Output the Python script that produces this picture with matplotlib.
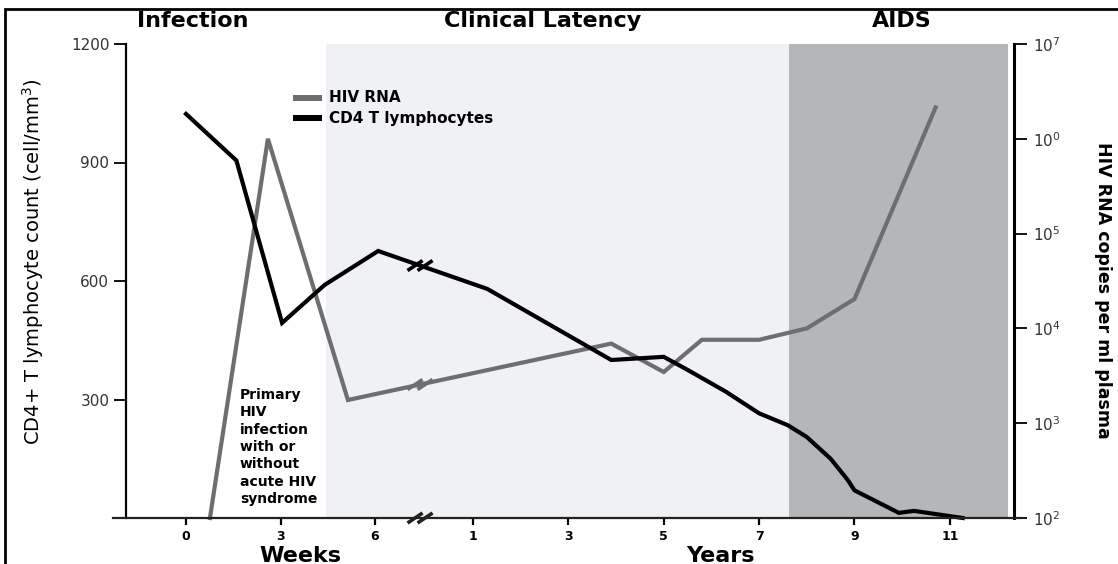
import matplotlib
matplotlib.use('Agg')
import matplotlib.pyplot as plt
import numpy as np
from matplotlib.lines import Line2D
from matplotlib.patches import Rectangle
from matplotlib.transforms import IdentityTransform

# ---------------- data ----------------
week_ticks = [0, 3, 6]
year_ticks = [1, 3, 5, 7, 9, 11]
left_ticks = [300, 600, 900, 1200]
right_ticks = [1e2, 1e3, 1e4, 1e5, 1e6, 1e7]
right_tick_labels = ['$\\mathregular{10^2}$', '$\\mathregular{10^3}$', '$\\mathregular{10^4}$',
                     '$\\mathregular{10^5}$', '$\\mathregular{10^0}$', '$\\mathregular{10^7}$']

cd4_week_t = [0, 1.6, 3.05, 4.4, 6.1]
cd4_week_v = [1023, 905, 494, 590, 676]
cd4_year_t = [1.3, 3.9, 5.0, 5.5, 6.3, 7.0, 7.6, 8.0, 8.5, 8.86, 9.0, 9.93, 10.25, 11.27]
cd4_year_v = [580, 400, 408, 375, 320, 265, 235, 205, 150, 96, 70, 13, 18, 0]

rna_week_t = [0.76, 2.6, 5.14]
rna_week_v = [1e2, 1e6, 10 ** 3.245]
rna_year_t = [3.9, 5.0, 5.8, 7.0, 8.0, 9.0, 10.7]
rna_year_v = [10 ** 3.84, 10 ** 3.54, 10 ** 3.88, 10 ** 3.88, 10 ** 4.0, 10 ** 4.31, 10 ** 6.33]

phase_labels = ['Infection', 'Clinical Latency', 'AIDS']
latency_start_week = 4.44
aids_start_year = 7.62
aids_end_year = 12.22
break_week = 7.43

# ---------------- axis break mapping ----------------
YEAR1_POS = 9.11      # position of year 1 in week units
YEAR_UNIT = 1.514     # one year in week units


def wpos(t):
    return np.asarray(t, dtype=float)


def ypos(t):
    return YEAR1_POS + (np.asarray(t, dtype=float) - 1) * YEAR_UNIT


W, H = 1118, 564
fig = plt.figure(figsize=(W / 100, H / 100), dpi=100)
fig.patch.set_facecolor('white')


def fx(px):
    return px / W


def fy(py):
    return 1 - py / H


ax = fig.add_axes([fx(126), fy(518), fx(1014) - fx(126), fy(44) - fy(518)])
ax.set_xlim(-1.905, 26.286)
ax.set_ylim(0, 1200)
ax.patch.set_visible(False)

ax2 = ax.twinx()
ax2.set_yscale('log')
ax2.set_ylim(1e2, 1e7)
ax2.set_xlim(ax.get_xlim())

# shading
ax.axvspan(wpos(latency_start_week), ypos(aids_start_year), color='#f0f1f5', lw=0, zorder=0)
ax.axvspan(ypos(aids_start_year), ypos(aids_end_year), color='#b4b7ba', lw=0, zorder=0)

# lines
cd4_x = np.concatenate([wpos(cd4_week_t), ypos(cd4_year_t)])
cd4_y = np.array(cd4_week_v + cd4_year_v)
rna_x = np.concatenate([wpos(rna_week_t), ypos(rna_year_t)])
rna_y = np.array(rna_week_v + rna_year_v)

ax2.plot(rna_x, rna_y, color='#6d6e70', lw=3.0, solid_joinstyle='miter', zorder=3, clip_on=False)
ax2.plot(cd4_x, np.power(10, 2 + 5 * cd4_y / 1200), color='black', lw=3.0,
         solid_joinstyle='miter', zorder=4, clip_on=False)

# spines
for s in ['top', 'bottom']:
    ax.spines[s].set_visible(False)
    ax2.spines[s].set_visible(False)
ax.spines['right'].set_visible(False)
ax2.spines['left'].set_visible(False)
ax.spines['left'].set_linewidth(1.6)
ax2.spines['right'].set_linewidth(2.2)

# left ticks
ax.set_yticks(left_ticks)
ax.set_yticklabels([str(v) for v in left_ticks], fontsize=11, color='#333333')
ax.tick_params(axis='y', direction='out', length=9, width=1.3, pad=3)

# right ticks
ax2.set_yticks(right_ticks)
ax2.set_yticklabels(right_tick_labels, fontsize=11, color='#333333')
ax2.yaxis.set_minor_locator(matplotlib.ticker.NullLocator())
ax2.tick_params(axis='y', direction='out', length=9, width=1.3, pad=5)

# bottom ticks
xt = list(wpos(week_ticks)) + list(ypos(year_ticks))
xl = [str(v) for v in week_ticks] + [str(v) for v in year_ticks]
ax.set_xticks(xt)
ax.set_xticklabels(xl, fontsize=9, fontweight='bold')
ax.tick_params(axis='x', direction='out', length=5, width=1.6, pad=4)
ax2.tick_params(axis='x', which='both', bottom=False, labelbottom=False)

# bottom axis line extending past both spines
fig.add_artist(Line2D([fx(113), fx(1021)], [fy(518), fy(518)], color='#222222', lw=1.6))

# axis labels
fig.text(fx(33), fy(262), 'CD4+ T lymphocyte count (cell/mm$^3$)', rotation=90,
         ha='center', va='center', fontsize=14)
fig.text(fx(1103), fy(290), 'HIV RNA copies per ml plasma', rotation=-90,
         ha='center', va='center', fontsize=12.5, fontweight='bold')
fig.text(fx(300), fy(556), 'Weeks', ha='center', va='center', fontsize=16, fontweight='bold')
fig.text(fx(720), fy(556), 'Years', ha='center', va='center', fontsize=16, fontweight='bold')

# phase headings
for lab, px in zip(phase_labels, [193, 543, 902]):
    fig.text(fx(px), fy(21), lab, ha='center', va='center', fontsize=16, fontweight='bold')

# legend
fig.add_artist(Rectangle((fx(293), fy(101)), fx(29), 6 / H, color='#6d6e70', lw=0))
fig.add_artist(Rectangle((fx(293), fy(121)), fx(29), 6 / H, color='black', lw=0))
fig.text(fx(329), fy(98), 'HIV RNA', ha='left', va='center', fontsize=11, fontweight='bold')
fig.text(fx(329), fy(118), 'CD4 T lymphocytes', ha='left', va='center', fontsize=11, fontweight='bold')

# annotation
fig.text(fx(240), fy(388), 'Primary\nHIV\ninfection\nwith or\nwithout\nacute HIV\nsyndrome',
         ha='left', va='top', fontsize=10, fontweight='bold', linespacing=1.3)

# figure border (top and left visible)
fig.add_artist(Rectangle((fx(5), -0.1), 1.2, fy(9) + 0.1, fill=False, lw=2, ec='black'))


# break marks
def draw_break(xd, yd, axis, color):
    X, Y = axis.transData.transform((xd, yd))
    for dx in (-5, 5):
        fig.add_artist(Line2D([X + dx - 6, X + dx + 6], [Y - 4, Y + 4], color=color, lw=2.6,
                              transform=IdentityTransform()))


bx = wpos(break_week)
draw_break(bx, 0, ax, '#222222')
draw_break(bx, np.interp(bx, cd4_x, cd4_y), ax, 'black')
draw_break(bx, 10 ** np.interp(bx, rna_x, np.log10(rna_y)), ax2, '#6d6e70')

fig.savefig('out.png', dpi=100)
